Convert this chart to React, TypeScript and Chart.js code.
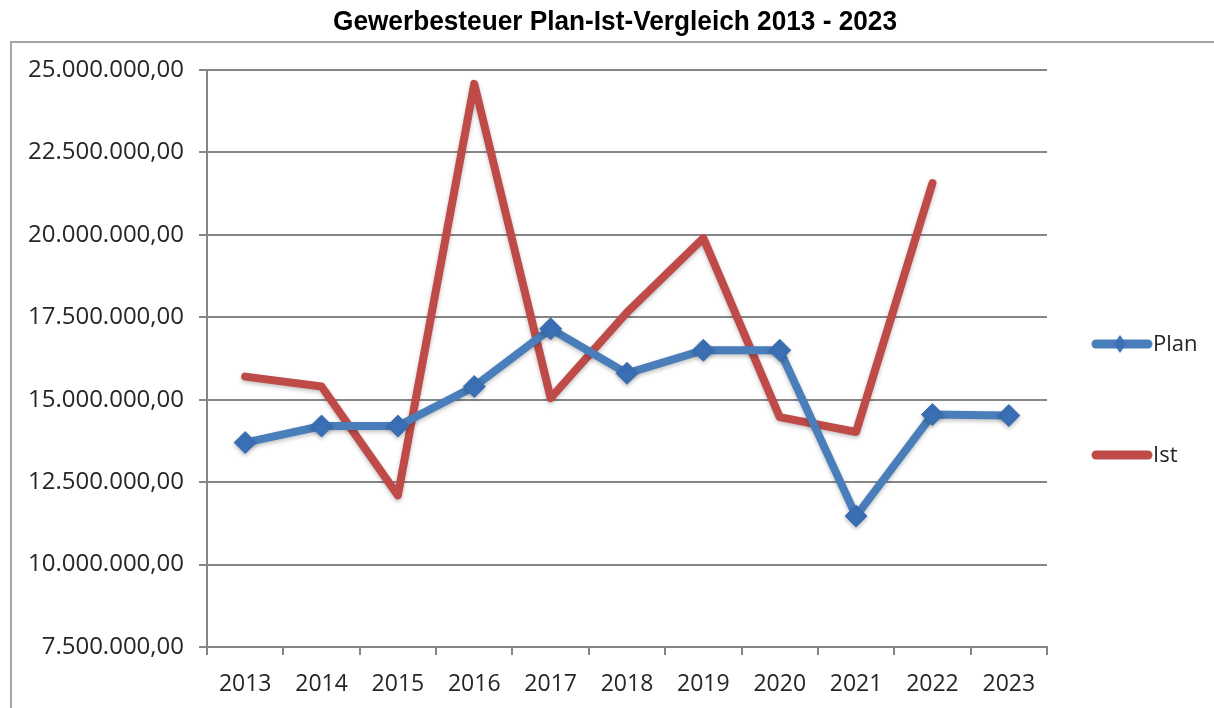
import React, { useEffect, useRef } from "react";
import { Chart, registerables } from "chart.js";

Chart.register(...registerables);

const years = ["2013", "2014", "2015", "2016", "2017", "2018", "2019", "2020", "2021", "2022", "2023"];
const planValues = [13700000, 14200000, 14200000, 15400000, 17150000, 15800000, 16500000, 16500000, 11470000, 14550000, 14520000];
const istValues: (number | null)[] = [15700000, 15400000, 12100000, 24580000, 15050000, 17650000, 19900000, 14470000, 14020000, 21570000, null];
const yMin = 7500000;
const yMax = 25000000;
const yStep = 2500000;
const titleText = "Gewerbesteuer Plan-Ist-Vergleich 2013 - 2023";

function formatDE(v: number): string {
  const int = Math.round(v).toString().replace(/\B(?=(\d{3})+(?!\d))/g, ".");
  return int + ",00";
}

const frameTitleLegend = {
  id: "frameTitleLegend",
  beforeDraw(chart: any) {
    const ctx = chart.ctx;
    ctx.save();
    ctx.strokeStyle = "#a6a6a6";
    ctx.lineWidth = 2;
    ctx.strokeRect(11, 42, chart.width + 20, chart.height + 20);
    ctx.restore();
  },
  afterDraw(chart: any) {
    const ctx = chart.ctx;
    // title, narrowed horizontally to imitate a condensed face
    ctx.save();
    ctx.font = "bold 27px 'Liberation Sans', Arial, sans-serif";
    ctx.fillStyle = "#000000";
    ctx.textBaseline = "middle";
    ctx.textAlign = "center";
    const w = ctx.measureText(titleText).width;
    const sx = 564 / w;
    ctx.translate(615, 23);
    ctx.scale(sx, 1);
    ctx.fillText(titleText, 0, 0);
    ctx.restore();

    const items = [
      { ds: chart.data.datasets[0], y: 344, marker: true },
      { ds: chart.data.datasets[1], y: 455, marker: false },
    ];
    ctx.save();
    items.forEach((it) => {
      ctx.strokeStyle = it.ds.borderColor;
      ctx.lineWidth = 9;
      ctx.lineCap = "round";
      ctx.beginPath();
      ctx.moveTo(1096, it.y);
      ctx.lineTo(1148, it.y);
      ctx.stroke();
      if (it.marker) {
        ctx.fillStyle = it.ds.pointBackgroundColor;
        ctx.beginPath();
        ctx.moveTo(1120, it.y - 9);
        ctx.lineTo(1126, it.y);
        ctx.lineTo(1120, it.y + 9);
        ctx.lineTo(1114, it.y);
        ctx.closePath();
        ctx.fill();
      }
      ctx.fillStyle = "#262626";
      ctx.font = "22px 'Open Sans'";
      ctx.textBaseline = "middle";
      ctx.textAlign = "left";
      ctx.fillText(it.ds.label, 1153, it.y + 1);
    });
    ctx.restore();
  },
};

const shadowPlugin = {
  id: "lineShadow",
  beforeDatasetsDraw(chart: any) {
    const ctx = chart.ctx;
    ctx.save();
    ctx.shadowColor = "rgba(0,0,0,0.25)";
    ctx.shadowBlur = 4;
    ctx.shadowOffsetY = 2;
  },
  afterDatasetsDraw(chart: any) {
    chart.ctx.restore();
  },
};

export default function App() {
  const ref = useRef<HTMLCanvasElement | null>(null);
  useEffect(() => {
    document.body.style.margin = "0";
    const canvas = ref.current;
    if (!canvas) return;
    const chart = new Chart(canvas, {
      type: "line",
      data: {
        labels: years,
        datasets: [
          {
            label: "Plan",
            data: planValues,
            borderColor: "#4a7ebb",
            backgroundColor: "#4a7ebb",
            pointBackgroundColor: "#3b70b6",
            pointBorderColor: "#3b70b6",
            borderWidth: 8,
            pointStyle: "rectRot",
            pointRadius: 11,
            pointBorderWidth: 1,
            tension: 0,
            borderJoinStyle: "miter",
            borderCapStyle: "round",
          },
          {
            label: "Ist",
            data: istValues,
            borderColor: "#be4b48",
            backgroundColor: "#be4b48",
            borderWidth: 8,
            pointRadius: 0,
            tension: 0,
            borderJoinStyle: "round",
            borderCapStyle: "round",
            spanGaps: false,
          },
        ],
      },
      options: {
        responsive: false,
        animation: false,
        events: [],
        layout: { padding: { left: 0, right: 167, top: 70, bottom: 0 } },
        plugins: {
          legend: { display: false },
          tooltip: { enabled: false },
          title: { display: false },
        },
        scales: {
          x: {
            offset: true,
            afterFit(scale: any) {
              scale.height = 61;
            },
            grid: {
              offset: true,
              drawOnChartArea: false,
              drawTicks: true,
              tickLength: 8,
              color: "#868686",
              lineWidth: 2,
            },
            border: { color: "#868686", width: 2 },
            ticks: {
              color: "#262626",
              font: { family: "'Open Sans'", size: 23 },
              padding: 16,
              maxRotation: 0,
              autoSkip: false,
            },
          },
          y: {
            min: yMin,
            max: yMax,
            afterFit(scale: any) {
              scale.width = 207;
            },
            grid: {
              color: "#868686",
              lineWidth: 2,
              drawTicks: true,
              tickLength: 8,
            },
            border: { color: "#868686", width: 2 },
            ticks: {
              stepSize: yStep,
              color: "#262626",
              font: { family: "'Open Sans'", size: 24 },
              padding: 15,
              callback: (v: any) => formatDE(Number(v)),
            },
          },
        },
      },
      plugins: [frameTitleLegend, shadowPlugin],
    } as any);
    return () => chart.destroy();
  }, []);
  return (
    <div style={{ width: 1214, height: 708, background: "#ffffff" }}>
      <canvas ref={ref} width={1214} height={708} />
    </div>
  );
}
